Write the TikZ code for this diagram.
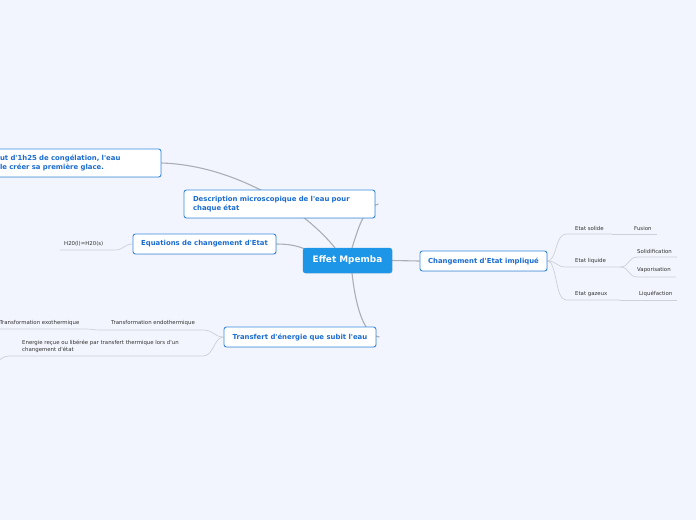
\documentclass[tikz,border=0pt]{standalone}
\usepackage{fontspec}
\setmainfont{DejaVu Sans}[Ligatures=TeXOff]
\usetikzlibrary{calc, backgrounds, shadows}

\begin{document}
\begin{tikzpicture}[x=1pt, y=-1pt,
    root/.style={fill=rootColour, draw=rootColour, rounded corners=2.5pt, text=white,
        font=\fontsize{8.9}{10}\selectfont\bfseries,
        drop shadow={shadow xshift=0.7pt, shadow yshift=-0.7pt, opacity=0.2}},
    topic/.style={draw=borderColour, fill=white, line width=0.9pt, rounded corners=2.5pt,
        text=topicText, font=\fontsize{6.9}{8.4}\selectfont\bfseries, inner xsep=8pt,
        minimum height=20pt,
        drop shadow={shadow xshift=0.7pt, shadow yshift=-0.7pt, opacity=0.2}},
    leaf/.style={anchor=west, inner sep=0pt, text=leafText,
        font=\fontsize{5.4}{7}\selectfont},
    branch/.style={draw=branchColour, line width=1.1pt},
    twig/.style={draw=twigColour, line width=0.7pt}]

    \definecolor{bgColour}{HTML}{F2F5FD}
    \definecolor{rootColour}{HTML}{1E96E8}
    \definecolor{borderColour}{HTML}{3A8BE0}
    \definecolor{topicText}{HTML}{1B6CD0}
    \definecolor{leafText}{HTML}{333333}
    \definecolor{branchColour}{HTML}{ABAEB4}
    \definecolor{twigColour}{HTML}{CDD0D6}

    % Page
    \useasboundingbox (0,0) rectangle (696,520);
    \begin{scope}[on background layer]
        \fill[bgColour] (0,0) rectangle (696,520);
    \end{scope}

    % Central topic
    \node[root, minimum width=89pt, minimum height=25pt] (mpemba) at (347.5,260.5) {Effet Mpemba};

    % Main topics
    \node[topic, minimum width=127pt] (changement) at (483.5,261) {Changement d'Etat impliqué};
    \node[topic, text width=173pt, minimum height=28pt, inner xsep=9pt, align=left] (desc) at (279.5,204)
        {Description microscopique de l'eau pour\\chaque état};
    \node[topic, minimum width=143pt] (equations) at (204.5,244) {Equations de changement d'Etat};
    \node[topic, minimum width=152pt] (transfert) at (300,337) {Transfert d'énergie que subit l'eau};
    \node[topic, text width=153pt, minimum height=28pt, align=left] (glace) at (76.5,163)
        {ut d'1h25 de congélation, l'eau\\le créer sa première glace.};

    % Subtopics
    \node[leaf] (solide) at (575,228) {Etat solide};
    \node[leaf] (fusion) at (634,228) {Fusion};
    \node[leaf] (liquide) at (575,261) {Etat liquide};
    \node[leaf] (solidif) at (637,251) {Solidification};
    \node[leaf] (vapor) at (637,270.5) {Vaporisation};
    \node[leaf] (gazeux) at (575,294) {Etat gazeux};
    \node[leaf] (liquef) at (639,294) {Liquéfaction};
    \node[leaf] (h2o) at (64,244) {H20(l)=H20(s)};
    \node[leaf] (endo) at (111,323.5) {Transformation endothermique};
    \node[leaf] (exo) at (-0.5,323) {Transformation exothermique};
    \node[leaf, align=left] (energie) at (22,346.5)
        {Energie reçue ou libérée par transfert thermique lors d'un\\changement d'état};

    % Ends of the underlines
    \coordinate (solideEnd) at (612,234);
    \coordinate (fusionEnd) at (657,234);
    \coordinate (liquideEnd) at (620,267);
    \coordinate (solidifEnd) at (677,257);
    \coordinate (vaporEnd) at (676,277);
    \coordinate (gazeuxEnd) at (620,300);
    \coordinate (liquefEnd) at (677,300);
    \coordinate (h2oEnd) at (60,250);
    \coordinate (endoEnd) at (100,330);
    \coordinate (exoEnd) at (-3,329);
    \coordinate (energieEnd) at (10,356);
    \coordinate (energieOut) at (-3,362);

    \begin{scope}[on background layer]
        % Draw branches from the centre
        \draw[branch] (mpemba.east) -- (changement.west);
        \draw[branch] ($(mpemba.north)+(4.5,0)$) .. controls (358,230) and (363,208) .. ($(desc.east)+(3,0)$);
        \draw[branch] ($(mpemba.north)+(-12.5,0)$) .. controls (300,205) and (230,165) .. (glace.east);
        \draw[branch] (equations.east) .. controls (290,244) and (298,246) .. ($(mpemba.north west)+(4,2)$);
        \draw[branch] ($(mpemba.south)+(4.5,0)$) .. controls (355,300) and (362,335) .. ($(transfert.east)+(3,0)$);

        % Draw twigs on the right
        \draw[twig] (changement.east) .. controls (557,261) and (555,234) .. (566,234) -- (solideEnd);
        \draw[twig] (solideEnd) -- (fusionEnd);
        \draw[twig] (changement.east) .. controls (557,261) and (556,267) .. (566,267) -- (liquideEnd);
        \draw[twig] (liquideEnd) .. controls (630,267) and (627,257) .. (638,257) -- (solidifEnd);
        \draw[twig] (liquideEnd) .. controls (630,267) and (627,277) .. (638,277) -- (vaporEnd);
        \draw[twig] (changement.east) .. controls (557,261) and (555,300) .. (566,300) -- (gazeuxEnd);
        \draw[twig] (gazeuxEnd) -- (liquefEnd);

        % Draw twigs on the left
        \draw[twig] (equations.west) .. controls (124,244) and (124,250) .. (115,250) -- (h2oEnd);
        \draw[twig] (transfert.west) .. controls (214,337) and (214,330) .. (203,330) -- (endoEnd);
        \draw[twig] (endoEnd) .. controls (94,330) and (92,329) .. (85,329) -- (exoEnd);
        \draw[twig] (transfert.west) .. controls (214,337) and (214,356) .. (203,356) -- (energieEnd);
        \draw[twig] (energieEnd) .. controls (4,356) and (2,358) .. (energieOut);
    \end{scope}

\end{tikzpicture}
\end{document}
